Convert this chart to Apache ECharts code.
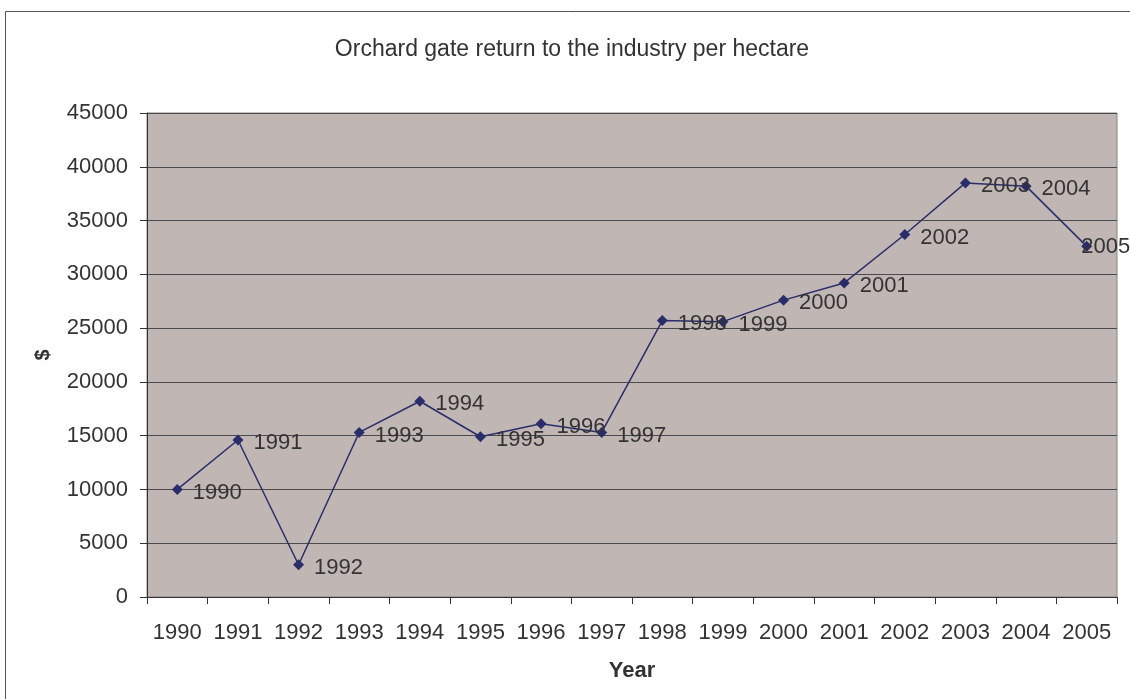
<!DOCTYPE html>
<html>
<head>
<meta charset="utf-8">
<script src="https://cdn.jsdelivr.net/npm/echarts@6/dist/echarts.min.js"></script>
<style>
  html, body { margin: 0; padding: 0; background: #fff; }
  #main { width: 1130px; height: 699px; }
</style>
</head>
<body>
<div id="main"></div>
<script>
const years = ["1990", "1991", "1992", "1993", "1994", "1995", "1996", "1997",
  "1998", "1999", "2000", "2001", "2002", "2003", "2004", "2005"];
const returnPerHa = [10000, 14600, 3000, 15300, 18200, 14900, 16100, 15300,
  25700, 25600, 27600, 29200, 33700, 38500, 38200, 32600];

const chart = echarts.init(document.getElementById("main"));

const font = "Liberation Sans, Arial, sans-serif";

// last label is pulled back over its point so it stays inside the chart
const points = returnPerHa.map((v, i) =>
  i === returnPerHa.length - 1 ? { value: v, label: { offset: [-21, 1] } } : v
);

const option = {
  animation: false,
  title: {
    text: "Orchard gate return to the industry per hectare",
    left: 567,
    top: 33,
    textAlign: "center",
    textStyle: { fontFamily: font, fontSize: 23, fontWeight: "normal", color: "#333" },
  },
  graphic: [
    {
      type: "rect",
      shape: { x: 5.5, y: 11.5, width: 1140, height: 700 },
      style: { fill: "none", stroke: "#555", lineWidth: 1 },
      silent: true,
    },
  ],
  grid: {
    left: 147,
    right: 13,
    top: 113,
    bottom: 102,
    show: true,
    backgroundColor: "#c0b6b3",
    borderColor: "#8a8280",
    borderWidth: 1,
  },
  xAxis: {
    type: "category",
    data: years,
    boundaryGap: true,
    name: "Year",
    nameLocation: "middle",
    nameGap: 63,
    nameTextStyle: { fontFamily: font, fontSize: 22, fontWeight: "bold", color: "#333" },
    axisLine: { lineStyle: { color: "#333", width: 1 } },
    axisTick: { show: true, alignWithLabel: false, length: 7, lineStyle: { color: "#333" } },
    axisLabel: { fontFamily: font, fontSize: 22, color: "#333", margin: 25, interval: 0 },
  },
  yAxis: {
    type: "value",
    min: 0,
    max: 45000,
    interval: 5000,
    name: "$",
    nameLocation: "middle",
    nameGap: 94,
    nameRotate: 90,
    nameTextStyle: { fontFamily: font, fontSize: 20, fontWeight: "bold", color: "#333" },
    axisLine: { show: true, lineStyle: { color: "#333", width: 1 } },
    axisTick: { show: true, length: 7, lineStyle: { color: "#333" } },
    axisLabel: { fontFamily: font, fontSize: 22, color: "#333", margin: 19, formatter: (v) => String(v) },
    splitLine: { show: true, lineStyle: { color: "#4a4a4a", width: 1 } },
  },
  series: [
    {
      type: "line",
      data: points,
      symbol: "diamond",
      symbolSize: 11,
      lineStyle: { color: "#2b2d6b", width: 1.5 },
      itemStyle: { color: "#2b2d6b" },
      label: {
        show: true,
        position: "right",
        distance: 10,
        offset: [0, 3],
        fontFamily: font,
        fontSize: 22,
        color: "#333",
        formatter: (p) => years[p.dataIndex],
      },
    },
  ],
};

chart.setOption(option);
</script>
</body>
</html>
